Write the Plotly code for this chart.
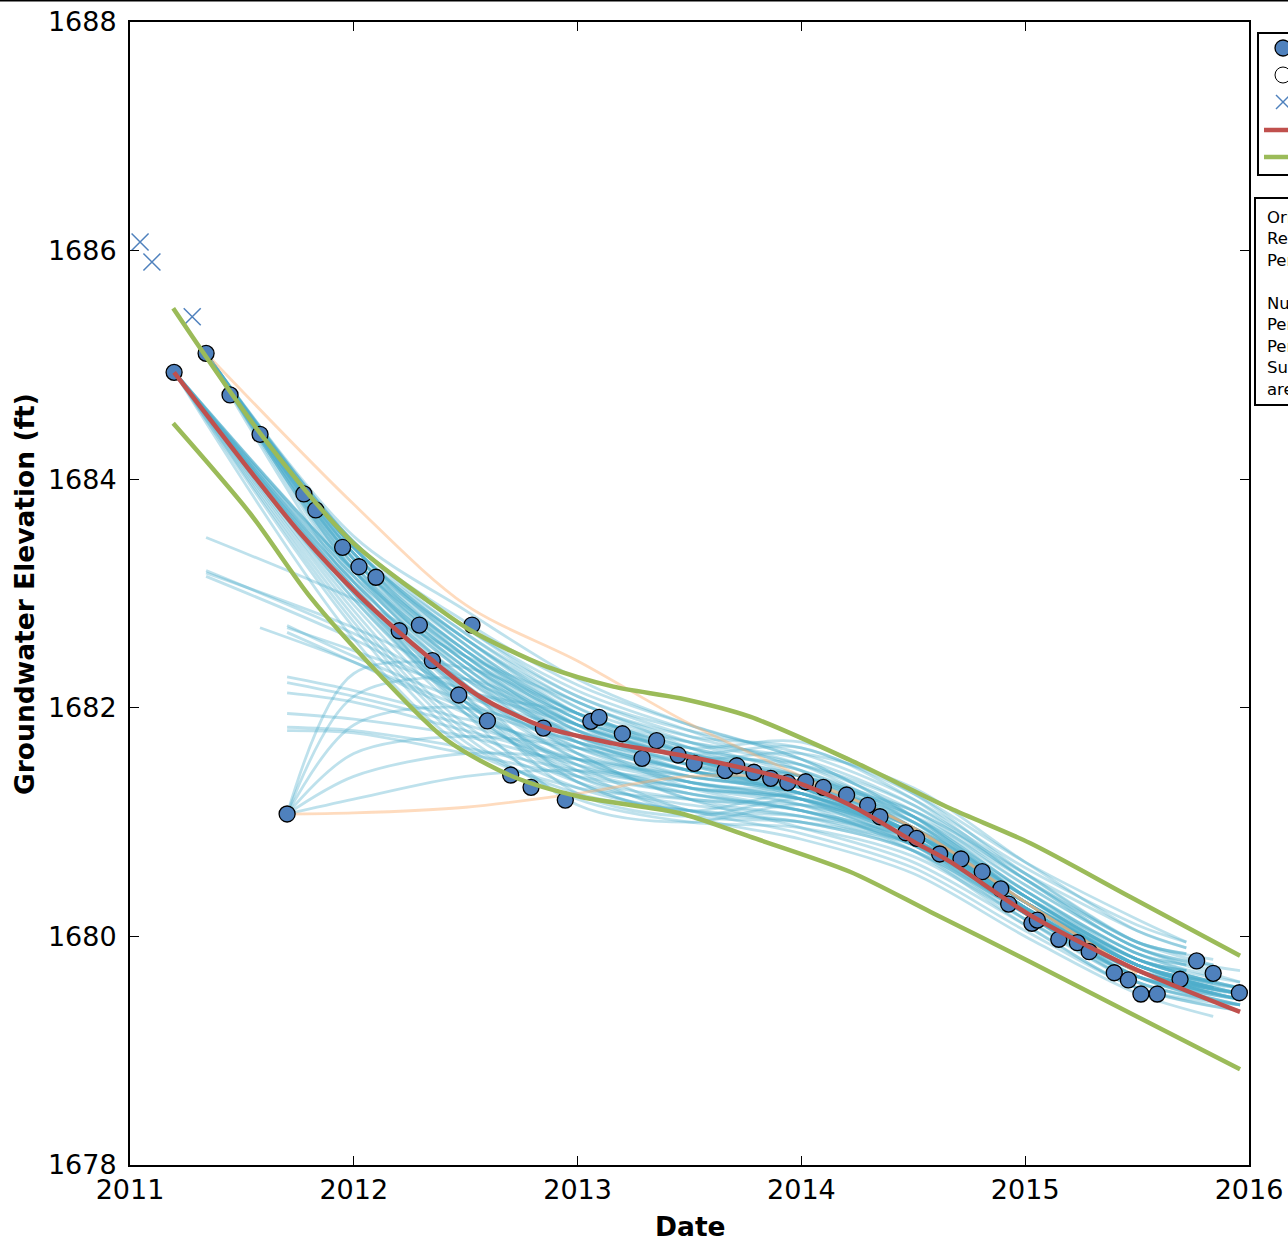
import plotly.graph_objects as go

# ---------------- data ----------------
OBS_X = [2011.197, 2011.340, 2011.447, 2011.581, 2011.702, 2011.777, 2011.830, 2011.950,
         2012.023, 2012.099, 2012.203, 2012.293, 2012.351, 2012.469, 2012.528, 2012.597,
         2012.701, 2012.792, 2012.847, 2012.945, 2013.059, 2013.096, 2013.200, 2013.288,
         2013.353, 2013.449, 2013.521, 2013.659, 2013.711, 2013.788, 2013.863, 2013.939,
         2014.019, 2014.098, 2014.202, 2014.296, 2014.351, 2014.466, 2014.515, 2014.618,
         2014.713, 2014.808, 2014.891, 2014.926, 2015.030, 2015.054, 2015.150, 2015.233,
         2015.286, 2015.398, 2015.461, 2015.517, 2015.590, 2015.692, 2015.766, 2015.840,
         2015.957]
OBS_Y = [1684.935, 1685.101, 1684.737, 1684.393, 1681.071, 1683.871, 1683.731, 1683.404,
         1683.234, 1683.142, 1682.674, 1682.724, 1682.412, 1682.112, 1682.724, 1681.885,
         1681.412, 1681.304, 1681.823, 1681.193, 1681.882, 1681.917, 1681.773, 1681.558,
         1681.712, 1681.587, 1681.514, 1681.450, 1681.493, 1681.436, 1681.383, 1681.345,
         1681.353, 1681.304, 1681.237, 1681.147, 1681.047, 1680.907, 1680.858, 1680.721,
         1680.677, 1680.566, 1680.415, 1680.283, 1680.115, 1680.143, 1679.975, 1679.945,
         1679.866, 1679.682, 1679.619, 1679.496, 1679.496, 1679.625, 1679.785, 1679.677,
         1679.507]

EXCL_X = [2011.045, 2011.098, 2011.278]
EXCL_Y = [1686.075, 1685.900, 1685.422]

TREND_X = [2011.197, 2011.536, 2011.760, 2012.028, 2012.349, 2012.564, 2012.845, 2013.158,
           2013.458, 2013.711, 2013.949, 2014.217, 2014.515, 2014.664, 2015.021, 2015.468,
           2015.960]
TREND_Y = [1684.935, 1684.074, 1683.529, 1682.972, 1682.418, 1682.097, 1681.835, 1681.689,
           1681.587, 1681.485, 1681.368, 1681.150, 1680.814, 1680.654, 1680.187, 1679.735,
           1679.339]

UPPER_X = [2011.193, 2011.581, 2011.983, 2012.326, 2012.519, 2012.862, 2013.160, 2013.458,
           2013.770, 2014.217, 2014.664, 2015.021, 2015.468, 2015.960]
UPPER_Y = [1685.495, 1684.404, 1683.468, 1682.943, 1682.681, 1682.360, 1682.185, 1682.083,
           1681.922, 1681.543, 1681.121, 1680.817, 1680.347, 1679.831]

LOWER_X = [2011.193, 2011.536, 2011.804, 2012.117, 2012.415, 2012.713, 2013.011, 2013.458,
           2013.770, 2014.217, 2014.575, 2015.021, 2015.468, 2015.960]
LOWER_Y = [1684.489, 1683.702, 1682.972, 1682.287, 1681.718, 1681.397, 1681.222, 1681.077,
           1680.872, 1680.566, 1680.216, 1679.779, 1679.330, 1678.837]

# bootstrap realizations: start point, values on a common grid, end point
BOOT_GRID = [2012.0, 2012.5, 2013.0, 2013.5, 2014.0, 2014.5, 2015.0, 2015.5]
BOOT_START_X = [
    2011.340, 2011.340, 2011.340, 2011.340, 2011.340, 2011.340, 2011.340, 2011.340, 2011.340, 2011.340,
    2011.197, 2011.197, 2011.197, 2011.197, 2011.197, 2011.197,
    2011.340, 2011.197, 2011.340,
    2011.340, 2011.340, 2011.197,
    2011.340, 2011.340, 2011.340, 2011.340,
    2011.581,
    2011.702, 2011.702, 2011.702, 2011.702, 2011.702, 2011.702, 2011.702, 2011.702,
    2011.702, 2011.702, 2011.702, 2011.702,
    2011.340, 2011.340, 2011.197, 2011.197, 2011.340, 2011.340, 2011.197, 2011.340, 2011.340,
    2011.197, 2011.340, 2011.197, 2011.340, 2011.340, 2011.197, 2011.340, 2011.340, 2011.197,
    2011.340, 2011.197, 2011.340,
    2011.702, 2011.702, 2011.702,
    2011.197, 2011.197, 2011.340, 2011.197, 2011.340, 2011.340,
    2011.197, 2011.197, 2011.197]
BOOT_START_Y = [
    1685.10, 1685.10, 1685.10, 1685.10, 1685.10, 1685.10, 1685.10, 1685.10, 1685.10, 1685.10,
    1684.94, 1684.94, 1684.94, 1684.94, 1684.94, 1684.94,
    1685.10, 1684.94, 1685.10,
    1685.10, 1685.10, 1684.94,
    1683.49, 1683.20, 1683.15, 1683.18,
    1682.70,
    1682.72, 1682.66, 1682.27, 1682.22, 1682.13, 1681.95, 1681.83, 1681.80,
    1681.07, 1681.07, 1681.07, 1681.07,
    1685.10, 1685.10, 1684.94, 1684.94, 1685.10, 1685.10, 1684.94, 1685.10, 1685.10,
    1684.94, 1685.10, 1684.94, 1685.10, 1685.10, 1684.94, 1685.10, 1685.10, 1684.94,
    1685.10, 1684.94, 1685.10,
    1682.70, 1681.07, 1681.07,
    1684.94, 1684.94, 1685.10, 1684.94, 1685.10, 1685.10,
    1684.94, 1684.94, 1684.94]
BOOT_MID = [
    [1683.40, 1682.60, 1682.05, 1681.70, 1681.40, 1680.95, 1680.30, 1679.75],
    [1683.30, 1682.45, 1681.90, 1681.60, 1681.35, 1680.95, 1680.30, 1679.70],
    [1683.45, 1682.70, 1682.15, 1681.80, 1681.45, 1680.95, 1680.25, 1679.65],
    [1683.35, 1682.50, 1681.95, 1681.65, 1681.45, 1681.05, 1680.40, 1679.85],
    [1683.25, 1682.40, 1681.85, 1681.55, 1681.30, 1680.90, 1680.25, 1679.70],
    [1683.40, 1682.55, 1681.95, 1681.60, 1681.50, 1681.15, 1680.55, 1679.95],
    [1683.20, 1682.35, 1681.80, 1681.50, 1681.25, 1680.85, 1680.20, 1679.65],
    [1683.45, 1682.75, 1682.20, 1681.85, 1681.55, 1681.05, 1680.35, 1679.75],
    [1683.30, 1682.50, 1681.85, 1681.45, 1681.35, 1681.10, 1680.50, 1679.90],
    [1683.35, 1682.60, 1682.00, 1681.55, 1681.20, 1680.80, 1680.20, 1679.70],
    [1683.10, 1682.25, 1681.75, 1681.50, 1681.30, 1680.90, 1680.25, 1679.70],
    [1683.00, 1682.15, 1681.65, 1681.40, 1681.25, 1680.85, 1680.20, 1679.65],
    [1683.20, 1682.40, 1681.85, 1681.55, 1681.35, 1680.95, 1680.30, 1679.75],
    [1683.05, 1682.20, 1681.60, 1681.20, 1681.05, 1680.75, 1680.15, 1679.65],
    [1683.15, 1682.30, 1681.70, 1681.35, 1681.25, 1680.95, 1680.40, 1679.85],
    [1682.95, 1682.05, 1681.50, 1681.10, 1681.00, 1680.75, 1680.20, 1679.70],
    [1683.15, 1682.10, 1681.25, 1681.05, 1681.20, 1680.95, 1680.35, 1679.75],
    [1683.00, 1681.95, 1681.15, 1681.00, 1681.15, 1680.90, 1680.30, 1679.70],
    [1683.20, 1682.20, 1681.35, 1681.10, 1681.25, 1681.00, 1680.40, 1679.80],
    [1683.40, 1682.55, 1681.90, 1681.65, 1681.70, 1681.25, 1680.55, 1679.95],
    [1683.35, 1682.45, 1681.80, 1681.60, 1681.65, 1681.20, 1680.50, 1679.90],
    [1683.20, 1682.35, 1681.75, 1681.55, 1681.60, 1681.30, 1680.65, 1680.05],
    [1682.95, 1682.45, 1682.05, 1681.65, 1681.35, 1680.95, 1680.30, 1679.75],
    [1682.65, 1682.15, 1681.95, 1681.60, 1681.30, 1680.90, 1680.25, 1679.70],
    [1682.60, 1682.10, 1681.80, 1681.50, 1681.25, 1680.90, 1680.30, 1679.75],
    [1682.70, 1682.25, 1681.85, 1681.55, 1681.35, 1681.00, 1680.35, 1679.80],
    [1682.40, 1682.00, 1681.70, 1681.45, 1681.25, 1680.90, 1680.30, 1679.75],
    [1682.45, 1682.05, 1681.70, 1681.45, 1681.25, 1680.90, 1680.30, 1679.75],
    [1682.40, 1681.95, 1681.60, 1681.35, 1681.20, 1680.85, 1680.25, 1679.70],
    [1682.15, 1681.90, 1681.65, 1681.45, 1681.30, 1680.95, 1680.30, 1679.75],
    [1682.10, 1681.85, 1681.55, 1681.35, 1681.20, 1680.90, 1680.30, 1679.80],
    [1682.05, 1681.80, 1681.55, 1681.40, 1681.25, 1680.90, 1680.25, 1679.70],
    [1681.90, 1681.75, 1681.50, 1681.30, 1681.15, 1680.85, 1680.25, 1679.70],
    [1681.80, 1681.65, 1681.45, 1681.30, 1681.20, 1680.90, 1680.30, 1679.75],
    [1681.78, 1681.60, 1681.40, 1681.25, 1681.10, 1680.80, 1680.20, 1679.65],
    [1682.10, 1682.25, 1681.85, 1681.55, 1681.30, 1680.90, 1680.25, 1679.70],
    [1681.85, 1682.00, 1681.70, 1681.45, 1681.25, 1680.85, 1680.20, 1679.65],
    [1681.40, 1681.60, 1681.55, 1681.40, 1681.25, 1680.90, 1680.30, 1679.75],
    [1681.20, 1681.40, 1681.45, 1681.35, 1681.20, 1680.85, 1680.25, 1679.70],
    [1683.45, 1682.70, 1682.10, 1681.80, 1681.60, 1681.20, 1680.60, 1680.10],
    [1683.40, 1682.65, 1682.05, 1681.75, 1681.65, 1681.25, 1680.65, 1680.15],
    [1683.05, 1682.10, 1681.45, 1681.05, 1680.85, 1680.55, 1680.00, 1679.50],
    [1683.00, 1682.05, 1681.40, 1681.10, 1680.90, 1680.60, 1680.05, 1679.55],
    [1683.25, 1682.30, 1681.60, 1681.20, 1680.95, 1680.65, 1680.10, 1679.55],
    [1683.35, 1682.55, 1681.95, 1681.70, 1681.55, 1681.15, 1680.50, 1679.95],
    [1683.10, 1682.20, 1681.55, 1681.25, 1681.10, 1680.80, 1680.20, 1679.60],
    [1683.30, 1682.45, 1681.85, 1681.55, 1681.40, 1681.05, 1680.45, 1679.90],
    [1683.40, 1682.60, 1682.00, 1681.70, 1681.50, 1681.10, 1680.45, 1679.90],
    [1683.15, 1682.30, 1681.75, 1681.45, 1681.20, 1680.80, 1680.15, 1679.60],
    [1683.20, 1682.35, 1681.70, 1681.30, 1681.10, 1680.80, 1680.25, 1679.75],
    [1683.05, 1682.15, 1681.55, 1681.30, 1681.20, 1680.90, 1680.35, 1679.85],
    [1683.45, 1682.65, 1682.10, 1681.75, 1681.50, 1681.00, 1680.30, 1679.70],
    [1683.35, 1682.50, 1681.90, 1681.55, 1681.40, 1681.10, 1680.55, 1680.05],
    [1683.10, 1682.25, 1681.65, 1681.35, 1681.15, 1680.75, 1680.10, 1679.55],
    [1683.30, 1682.40, 1681.75, 1681.40, 1681.30, 1681.05, 1680.50, 1679.95],
    [1683.25, 1682.45, 1681.90, 1681.60, 1681.40, 1680.95, 1680.25, 1679.65],
    [1683.20, 1682.40, 1681.80, 1681.50, 1681.40, 1681.05, 1680.40, 1679.85],
    [1683.40, 1682.60, 1681.95, 1681.55, 1681.30, 1680.90, 1680.30, 1679.80],
    [1682.95, 1682.00, 1681.35, 1681.05, 1681.00, 1680.80, 1680.25, 1679.70],
    [1683.30, 1682.50, 1681.95, 1681.65, 1681.45, 1681.00, 1680.35, 1679.80],
    [1682.50, 1682.15, 1681.85, 1681.55, 1681.30, 1680.90, 1680.25, 1679.70],
    [1682.30, 1682.35, 1681.95, 1681.60, 1681.40, 1681.00, 1680.35, 1679.80],
    [1681.60, 1681.75, 1681.65, 1681.45, 1681.30, 1680.95, 1680.35, 1679.80],
    [1682.85, 1681.85, 1681.35, 1681.15, 1681.05, 1680.80, 1680.25, 1679.70],
    [1682.90, 1681.95, 1681.45, 1681.25, 1681.10, 1680.85, 1680.30, 1679.75],
    [1683.10, 1682.00, 1681.40, 1681.20, 1681.15, 1680.90, 1680.35, 1679.80],
    [1682.80, 1681.80, 1681.30, 1681.10, 1681.05, 1680.85, 1680.30, 1679.75],
    [1683.05, 1682.05, 1681.50, 1681.30, 1681.20, 1680.85, 1680.25, 1679.70],
    [1683.50, 1682.85, 1682.25, 1681.85, 1681.55, 1681.05, 1680.35, 1679.80],
    [1682.70, 1681.70, 1681.25, 1681.10, 1681.00, 1680.75, 1680.20, 1679.65],
    [1682.75, 1681.75, 1681.20, 1681.00, 1680.95, 1680.70, 1680.15, 1679.60],
    [1682.60, 1681.65, 1681.30, 1681.20, 1681.10, 1680.85, 1680.30, 1679.75],
]
BOOT_END_X = [
    2015.96, 2015.96, 2015.96, 2015.72, 2015.84, 2015.72, 2015.96, 2015.84, 2015.96, 2015.96,
    2015.96, 2015.96, 2015.84, 2015.96, 2015.72, 2015.96,
    2015.84, 2015.96, 2015.72,
    2015.72, 2015.84, 2015.72,
    2015.96, 2015.84, 2015.96, 2015.72,
    2015.84,
    2015.96, 2015.96, 2015.84, 2015.72, 2015.96, 2015.96, 2015.84, 2015.96,
    2015.96, 2015.84, 2015.96, 2015.72,
    2015.72, 2015.72, 2015.84, 2015.96, 2015.96, 2015.84, 2015.96, 2015.84, 2015.96,
    2015.96, 2015.84, 2015.72, 2015.96, 2015.72, 2015.96, 2015.84, 2015.96, 2015.84,
    2015.96, 2015.84, 2015.96,
    2015.96, 2015.84, 2015.96,
    2015.96, 2015.84, 2015.96, 2015.72, 2015.96, 2015.84,
    2015.96, 2015.84, 2015.96]
BOOT_END_Y = [
    1679.50, 1679.45, 1679.40, 1679.75, 1679.55, 1679.85, 1679.50, 1679.60, 1679.70, 1679.55,
    1679.45, 1679.40, 1679.60, 1679.45, 1679.75, 1679.50,
    1679.55, 1679.50, 1679.70,
    1679.85, 1679.75, 1679.90,
    1679.50, 1679.55, 1679.50, 1679.70,
    1679.60,
    1679.55, 1679.45, 1679.60, 1679.70, 1679.50, 1679.45, 1679.55, 1679.40,
    1679.50, 1679.55, 1679.50, 1679.65,
    1679.95, 1679.95, 1679.30, 1679.35, 1679.40, 1679.75, 1679.40, 1679.70, 1679.60,
    1679.40, 1679.55, 1679.70, 1679.45, 1679.90, 1679.35, 1679.80, 1679.45, 1679.65,
    1679.60, 1679.50, 1679.55,
    1679.50, 1679.60, 1679.55,
    1679.50, 1679.55, 1679.55, 1679.60, 1679.45, 1679.60,
    1679.45, 1679.45, 1679.55]

# flagged realizations (orange)
FLAG_START_X = [2011.340, 2011.702]
FLAG_START_Y = [1685.10, 1681.07]
FLAG_MID = [
    [1683.78, 1682.90, 1682.41, 1681.86, 1681.40, 1680.95, 1680.30, 1679.68],
    [1681.08, 1681.13, 1681.25, 1681.40, 1681.35, 1680.95, 1680.30, 1679.68],
]

X_TICKS = [2011, 2012, 2013, 2014, 2015, 2016]
Y_TICKS = [1678, 1680, 1682, 1684, 1686, 1688]

LEGEND_LABELS = ["Observed data", "Outliers", "Excluded data", "Trend", "95% confidence"]
INFO_LINES = ["Original data points: 60", "Removed points: 3", "Period of record: 2011-2016",
              "", "Number of realizations: 69", "Percent increasing: 0%",
              "Percent decreasing: 100%", "Summary: groundwater levels",
              "are decreasing"]

# ---------------- figure ----------------
W, H = 1288, 1239
FONT = "DejaVu Sans"
BLUE_LINE = "rgba(78,174,204,0.37)"
ORANGE_LINE = "rgba(253,175,110,0.45)"
DOT = "#4F81BD"
RED = "#C0504D"
GREEN = "#9BBB59"


def px(x):
    return x / W


def py(y):
    return 1 - y / H


fig = go.Figure()

for x0, y0, mid, x1, y1 in zip(BOOT_START_X, BOOT_START_Y, BOOT_MID, BOOT_END_X, BOOT_END_Y):
    fig.add_trace(go.Scatter(x=[x0] + BOOT_GRID + [x1], y=[y0] + mid + [y1], mode="lines",
                             line=dict(color=BLUE_LINE, width=2.8, shape="spline", smoothing=0.9),
                             hoverinfo="skip", showlegend=False))

for x0, y0, mid in zip(FLAG_START_X, FLAG_START_Y, FLAG_MID):
    fig.add_trace(go.Scatter(x=[x0] + BOOT_GRID, y=[y0] + mid, mode="lines",
                             line=dict(color=ORANGE_LINE, width=2.8, shape="spline", smoothing=0.9),
                             hoverinfo="skip", showlegend=False))

fig.add_trace(go.Scatter(x=OBS_X, y=OBS_Y, mode="markers", name=LEGEND_LABELS[0],
                         marker=dict(size=16, color=DOT, line=dict(color="black", width=1.3)),
                         showlegend=False))
fig.add_trace(go.Scatter(x=EXCL_X, y=EXCL_Y, mode="markers", name=LEGEND_LABELS[2],
                         marker=dict(size=17, symbol="x-thin", color=DOT,
                                     line=dict(color=DOT, width=1.5)),
                         showlegend=False))
fig.add_trace(go.Scatter(x=TREND_X, y=TREND_Y, mode="lines", name=LEGEND_LABELS[3],
                         line=dict(color=RED, width=4.5, shape="spline", smoothing=0.8),
                         showlegend=False))
fig.add_trace(go.Scatter(x=UPPER_X, y=UPPER_Y, mode="lines", name=LEGEND_LABELS[4],
                         line=dict(color=GREEN, width=4.5, shape="spline", smoothing=0.8),
                         showlegend=False))
fig.add_trace(go.Scatter(x=LOWER_X, y=LOWER_Y, mode="lines", name=LEGEND_LABELS[4],
                         line=dict(color=GREEN, width=4.5, shape="spline", smoothing=0.8),
                         showlegend=False))

axis_common = dict(showgrid=False, zeroline=False, showline=True, linecolor="black",
                   linewidth=2, mirror="ticks", ticks="inside", ticklen=9, tickwidth=1.3,
                   tickcolor="black", ticklabeloverflow="allow",
                   tickfont=dict(family=FONT, size=27, color="black"))

fig.update_layout(
    width=W, height=H, margin=dict(l=0, r=0, t=0, b=0, autoexpand=False),
    paper_bgcolor="white", plot_bgcolor="white", showlegend=False,
    xaxis=dict(domain=[px(130), px(1249)], range=[2011, 2016], tickvals=X_TICKS,
               ticktext=[str(v) for v in X_TICKS], ticklabelstandoff=0, **axis_common),
    yaxis=dict(domain=[py(1165), py(22)], range=[1678, 1688], tickvals=Y_TICKS,
               ticktext=[str(v) for v in Y_TICKS], ticklabelstandoff=6, **axis_common),
)

shapes = []
# top border line of figure
shapes.append(dict(type="line", xref="paper", yref="paper", x0=0, x1=1, y0=py(0.8),
                   y1=py(0.8), line=dict(color="black", width=1.5)))
# legend box
shapes.append(dict(type="rect", xref="paper", yref="paper", x0=px(1258), x1=px(1330),
                   y0=py(175), y1=py(33), line=dict(color="black", width=2), fillcolor="white"))
r = 8
shapes.append(dict(type="circle", xref="paper", yref="paper", x0=px(1283 - r), x1=px(1283 + r),
                   y0=py(48 + r), y1=py(48 - r), fillcolor=DOT, line=dict(color="black", width=1.3)))
shapes.append(dict(type="circle", xref="paper", yref="paper", x0=px(1283 - r), x1=px(1283 + r),
                   y0=py(75 + r), y1=py(75 - r), fillcolor="white", line=dict(color="black", width=1)))
d = 7
for a, b in [(-d, -d), (-d, d)]:
    shapes.append(dict(type="line", xref="paper", yref="paper", x0=px(1283 + a), x1=px(1283 - a),
                       y0=py(102 + b), y1=py(102 - b), line=dict(color=DOT, width=1.5)))
shapes.append(dict(type="line", xref="paper", yref="paper", x0=px(1264), x1=px(1300),
                   y0=py(130), y1=py(130), line=dict(color=RED, width=4.5)))
shapes.append(dict(type="line", xref="paper", yref="paper", x0=px(1264), x1=px(1300),
                   y0=py(157), y1=py(157), line=dict(color=GREEN, width=4.5)))
# info box
shapes.append(dict(type="rect", xref="paper", yref="paper", x0=px(1255), x1=px(1400),
                   y0=py(405), y1=py(198), line=dict(color="black", width=2), fillcolor="white"))
fig.update_layout(shapes=shapes)

annotations = []
for i, lab in enumerate(LEGEND_LABELS):
    annotations.append(dict(xref="paper", yref="paper", x=px(1304), y=py(48 + 27 * i),
                            xanchor="left", yanchor="middle", showarrow=False, text=lab,
                            font=dict(family=FONT, size=17, color="black")))
annotations.append(dict(xref="paper", yref="paper", x=px(1265), y=py(206), xanchor="left",
                        yanchor="top", align="left", showarrow=False,
                        text="<br>".join(l if l else "&nbsp;" for l in INFO_LINES),
                        font=dict(family=FONT, size=16.5, color="black")))
annotations.append(dict(xref="paper", yref="paper", x=px(24), y=py(594), xanchor="center",
                        yanchor="middle", showarrow=False, textangle=-90,
                        text="<b>Groundwater Elevation (ft)</b>",
                        font=dict(family=FONT, size=26.5, color="black")))
annotations.append(dict(xref="paper", yref="paper", x=px(690), y=py(1226), xanchor="center",
                        yanchor="middle", showarrow=False, text="<b>Date</b>",
                        font=dict(family=FONT, size=26.5, color="black")))
fig.update_layout(annotations=annotations)

# remove the default page margin so the figure fills the window exactly
fig.write_html("out.html", config={"displayModeBar": False},
               post_script="document.body.style.margin='0';document.body.style.overflow='hidden';")
